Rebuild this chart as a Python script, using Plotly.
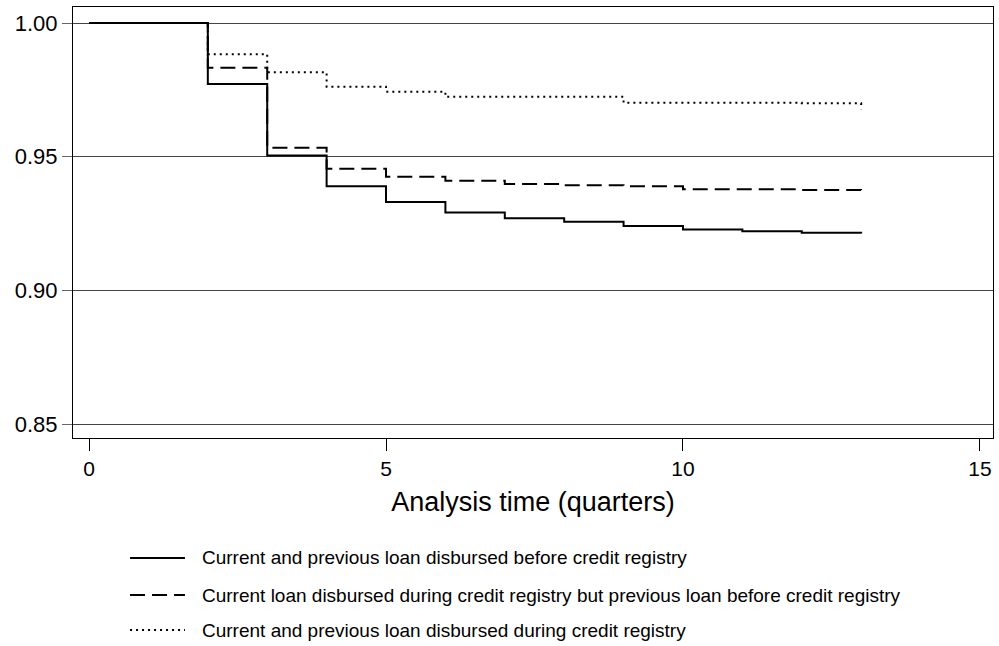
import plotly.graph_objects as go

# Survival estimates by quarter (step function, value holds until the next quarter)
quarters = list(range(0, 14))
before_registry = [1.0, 1.0, 0.9772, 0.9505, 0.9390, 0.9331, 0.9291, 0.9270,
                   0.9257, 0.9241, 0.9228, 0.9221, 0.9216, 0.9213]
current_during_prev_before = [1.0, 1.0, 0.9833, 0.9534, 0.9455, 0.9425, 0.9410, 0.9398,
                              0.9393, 0.9390, 0.9378, 0.9378, 0.9376, 0.9375]
both_during_registry = [1.0, 1.0, 0.9883, 0.9816, 0.9762, 0.9743, 0.9724, 0.9724,
                        0.9724, 0.9702, 0.9702, 0.9702, 0.9700, 0.9678]

series_names = [
    "Current and previous loan disbursed before credit registry",
    "Current loan disbursed during credit registry but previous loan before credit registry",
    "Current and previous loan disbursed during credit registry",
]

x_ticks = [0, 5, 10, 15]
y_ticks = [0.85, 0.90, 0.95, 1.00]
y_tick_labels = ["0.85", "0.90", "0.95", "1.00"]

FONT = "Liberation Sans, Arial, sans-serif"

fig = go.Figure()
dashes = ["solid", "15px,7px", "2px,4px"]
all_series = [before_registry, current_during_prev_before, both_during_registry]
for name, vals, dash in zip(series_names, all_series, dashes):
    fig.add_trace(go.Scatter(
        x=quarters, y=vals, mode="lines", name=name,
        line=dict(color="black", shape="hv", dash=dash, width=2),
        showlegend=False,
    ))

# Key below the plot: long line samples followed by the series labels
key_rows_y = [-0.2784, -0.3643, -0.4455]
for name, dash, ky in zip(series_names, dashes, key_rows_y):
    fig.add_shape(type="line", xref="paper", yref="paper",
                  x0=0.062, x1=0.1217, y0=ky, y1=ky,
                  line=dict(color="black", width=2, dash=dash))
    fig.add_annotation(xref="paper", yref="paper", x=0.138, y=ky,
                       xanchor="left", yanchor="middle", showarrow=False,
                       text=name, font=dict(family=FONT, size=19, color="black"))

fig.update_layout(
    width=999, height=646,
    margin=dict(l=73, r=6, t=7, b=208, autoexpand=False),
    paper_bgcolor="white", plot_bgcolor="white",
    font=dict(family=FONT, color="black"),
    showlegend=False,
)

fig.update_xaxes(
    range=[-0.27, 15.22], tickvals=x_ticks, ticktext=[str(v) for v in x_ticks],
    showgrid=False, zeroline=False,
    showline=True, linecolor="black", linewidth=1, mirror=True,
    ticks="outside", ticklen=12, tickcolor="black", tickwidth=1,
    tickfont=dict(size=21, family=FONT),
    title=dict(text="Analysis time (quarters)", font=dict(size=27, family=FONT), standoff=12),
    automargin=False,
)
fig.update_yaxes(
    range=[0.8448, 1.006], tickvals=y_ticks, ticktext=y_tick_labels,
    showgrid=True, gridcolor="#444444", gridwidth=1, zeroline=False,
    showline=True, linecolor="black", linewidth=1, mirror=True,
    ticks="outside", ticklen=10, tickcolor="#666666", tickwidth=1,
    tickfont=dict(size=22, family=FONT),
    automargin=False,
)

fig.write_html("out.html")
